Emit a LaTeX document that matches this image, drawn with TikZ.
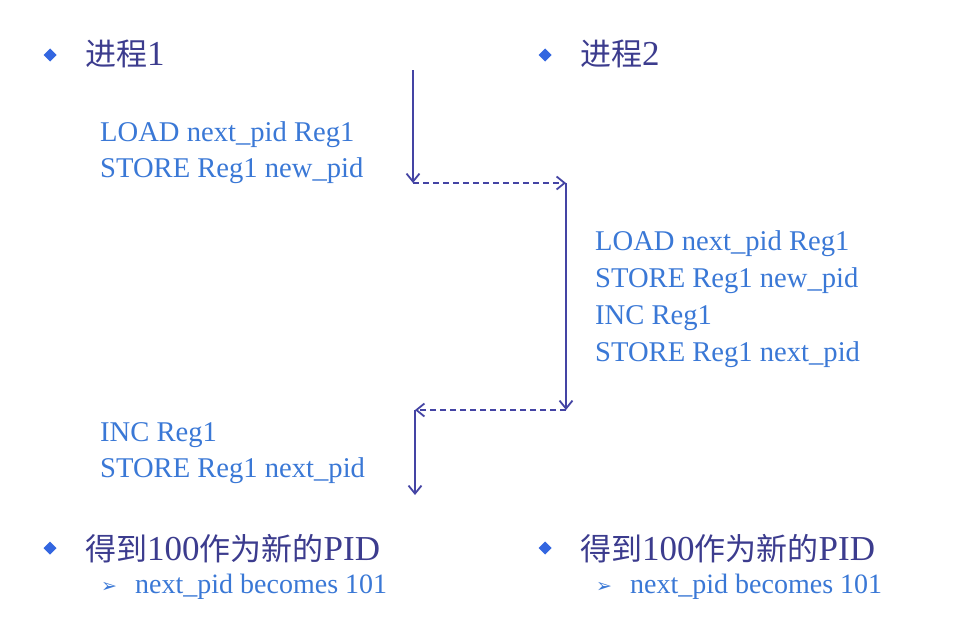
\documentclass[tikz,border=0pt]{standalone}
\usepackage{fontspec}
\setmainfont{Liberation Serif}
\newfontfamily\cjk{Noto Sans CJK SC}
\newfontfamily\dvs{DejaVu Sans}
\usetikzlibrary{arrows.meta}
\definecolor{headc}{HTML}{3C3C8E}
\definecolor{codec}{HTML}{3A78D6}
\definecolor{bulc}{HTML}{3366E0}
\definecolor{arrc}{HTML}{4444A4}
\newcommand{\zh}[1]{{\cjk\fontsize{31}{34}\selectfont #1}}
\tikzset{
  head/.style={anchor=base west,inner sep=0pt,text=headc,font=\fontsize{35}{38}\selectfont},
  code/.style={anchor=base west,inner sep=0pt,text=codec,font=\fontsize{28.6}{32}\selectfont},
  sub/.style={anchor=base west,inner sep=0pt,text=codec,font=\fontsize{28}{32}\selectfont},
  subm/.style={anchor=base west,inner sep=0pt,text=codec,font=\dvs\fontsize{19}{21}\selectfont},
  bul/.style={fill=bulc,draw=none},
  solidarr/.style={draw=arrc,line width=2pt,-{Straight Barb[length=8pt,width=13pt,line width=1.8pt]}},
  dasharr/.style={draw=arrc,line width=1.8pt,dash pattern=on 6pt off 4pt,-{Straight Barb[length=8pt,width=13pt,line width=1.8pt]}}
}
\newcommand{\bul}[2]{\fill[bul] (#1-6.5,#2) -- (#1,#2+6.5) -- (#1+6.5,#2) -- (#1,#2-6.5) -- cycle;}
\begin{document}
\begin{tikzpicture}[x=1pt,y=-1pt]
\useasboundingbox (0,0) rectangle (976,618);
\fill[white] (0,0) rectangle (976,618);
% headings
\bul{50}{55}
\node[head] (h1) at (85,65) {\zh{进程}1};
\bul{545}{55}
\node[head] (h2) at (580,65) {\zh{进程}2};
% code blocks
\node[code] (c1a) at (100,141) {LOAD next\_pid Reg1};
\node[code] (c1b) at (100,177) {STORE Reg1 new\_pid};
\node[code] (c2a) at (595,250) {LOAD next\_pid Reg1};
\node[code] (c2b) at (595,287) {STORE Reg1 new\_pid};
\node[code] (c2c) at (595,324) {INC Reg1};
\node[code] (c2d) at (595,361) {STORE Reg1 next\_pid};
\node[code] (c3a) at (100,441) {INC Reg1};
\node[code] (c3b) at (100,477) {STORE Reg1 next\_pid};
% arrows
\coordinate (a0) at (413,70);
\coordinate (a1) at (413,183);
\coordinate (a2) at (566,183);
\coordinate (a3) at (566,410);
\coordinate (a4) at (415,410);
\coordinate (a5) at (415,495);
\draw[solidarr] (a0) -- (a1);
\draw[dasharr] (a1) -- (a2);
\draw[solidarr] (a2) -- (a3);
\draw[dasharr] (a3) -- (a4);
\draw[solidarr] (a4) -- (a5);
% results
\bul{50}{548}
\node[head] (r1) at (85,560) {\zh{得到}100\zh{作为新的}PID};
\node[subm] (m1) at (101,592) {➢};
\node[sub] (s1) at (135,593) {next\_pid becomes 101};
\bul{545}{548}
\node[head] (r2) at (580,560) {\zh{得到}100\zh{作为新的}PID};
\node[subm] (m2) at (596,592) {➢};
\node[sub] (s2) at (630,593) {next\_pid becomes 101};
\end{tikzpicture}
\end{document}
